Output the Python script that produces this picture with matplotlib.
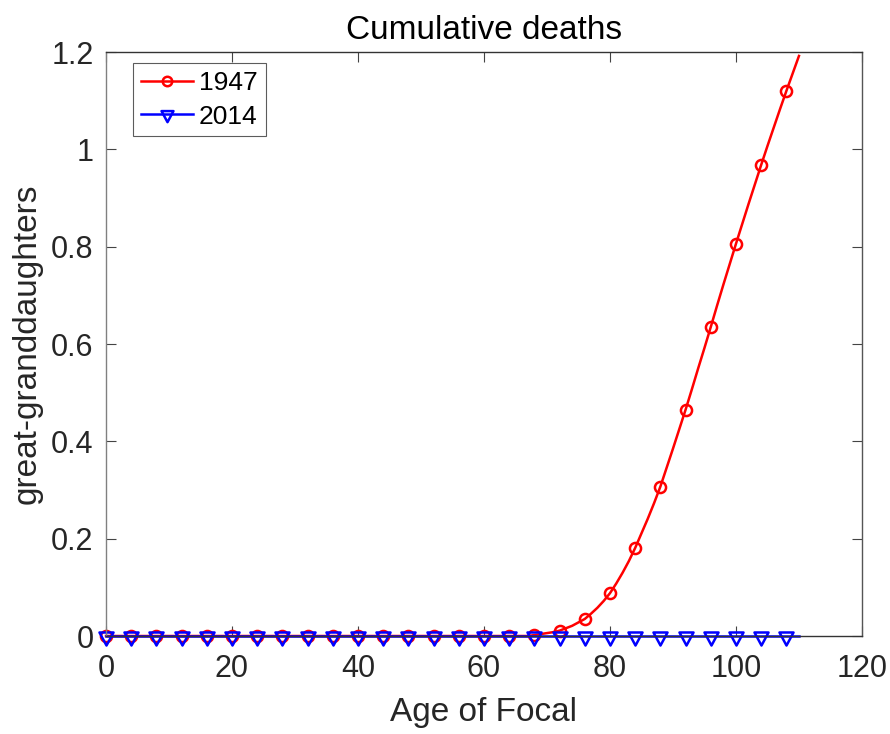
import numpy as np
import matplotlib
matplotlib.use("Agg")
import matplotlib.pyplot as plt
from matplotlib.path import Path

plt.rcParams['font.family'] = ['Liberation Sans', 'DejaVu Sans']

# Age of Focal, yearly from 0 to 110
age = np.arange(0, 111)

# Cumulative deaths of great-granddaughters, 1947 rates (ages 68..110; zero before)
deaths_1947_tail = [0.002, 0.004, 0.006, 0.008, 0.011, 0.016, 0.021, 0.028,
                    0.035, 0.046, 0.058, 0.072, 0.088, 0.108, 0.130, 0.154,
                    0.181, 0.211, 0.241, 0.273, 0.307, 0.346, 0.385, 0.425,
                    0.465, 0.507, 0.550, 0.592, 0.635, 0.679, 0.722, 0.764,
                    0.806, 0.847, 0.888, 0.928, 0.968, 1.007, 1.045, 1.083,
                    1.120, 1.156, 1.192]
deaths_1947 = [0.0] * 68 + deaths_1947_tail

# 2014 rates: effectively zero over the whole range
deaths_2014 = [0.0] * 111

# downward triangle anchored near its centroid
tri_down = Path([(-7, 4), (7, 4), (0, -9), (-7, 4)],
                [Path.MOVETO, Path.LINETO, Path.LINETO, Path.CLOSEPOLY])

fig = plt.figure(figsize=(8.9, 7.34), dpi=100)
ax = fig.add_axes([0.1191, 0.1335, 0.8494, 0.7956])

mark_idx = list(range(0, 109, 4))
ax.plot(age, deaths_1947, color='#ff0000', lw=1.8, marker='o', ms=8,
        mfc='none', mew=1.8, markevery=mark_idx, label='1947', clip_on=False)
ax.plot(age, deaths_2014, color='#0000ff', lw=1.8, marker=tri_down, ms=13,
        mfc='none', mew=1.8, markevery=mark_idx, label='2014', clip_on=False)

ax.set_xlim(0, 120)
ax.set_ylim(0, 1.2)
ax.set_xticks(np.arange(0, 121, 20))
ax.set_yticks([0, 0.2, 0.4, 0.6, 0.8, 1.0, 1.2])
ax.set_yticklabels(['0', '0.2', '0.4', '0.6', '0.8', '1', '1.2'])

ax.spines['left'].set_color('#808080')
ax.spines['bottom'].set_color('#333333')
ax.spines['top'].set_color('#333333')
ax.spines['right'].set_color('#555555')
for s in ax.spines.values():
    s.set_linewidth(1.0)
ax.tick_params(direction='in', length=7, width=0.8, top=True, right=True,
               labelsize=22, colors='#262626')
ax.tick_params(axis='x', pad=13)
ax.tick_params(axis='y', pad=9)
ax.tick_params(axis='both', color='#444444')

ax.set_title('Cumulative deaths', fontsize=24, color='black', pad=9.5)
ax.set_xlabel('Age of Focal', fontsize=24, color='#262626', labelpad=9.5)
ax.set_ylabel('great-granddaughters', fontsize=24, color='#262626', labelpad=6)

leg = ax.legend(loc='upper left', bbox_to_anchor=(0.0357, 0.981), fontsize=19,
                frameon=True, fancybox=False, handlelength=1.97,
                borderpad=0.3, labelspacing=0.36, handletextpad=0.23,
                borderaxespad=0.0, markerscale=0.85)
leg.get_frame().set_edgecolor('#333333')
leg.get_frame().set_linewidth(0.8)

fig.savefig('out.png', dpi=100, facecolor='white')
